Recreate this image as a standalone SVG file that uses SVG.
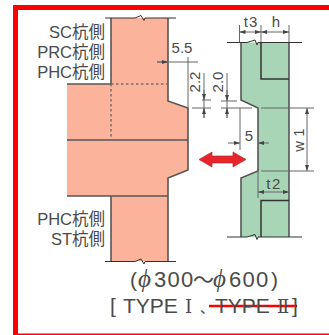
<svg xmlns="http://www.w3.org/2000/svg" width="329" height="335" viewBox="0 0 329 335">
<style>
text{font-family:"Liberation Sans","Noto Sans CJK JP",sans-serif;fill:#4a4a4a}
.lb{font-size:16.500px;text-anchor:end}
.d{font-size:15px;text-anchor:middle}
.big{font-size:21px}
.dg{font-size:22px;letter-spacing:1.300px}
.ph{font-family:"Liberation Serif",serif;font-style:italic;font-size:25px}
.rm{font-family:"DejaVu Serif",serif;font-size:18px}
.o{stroke:#555;stroke-width:1.600;fill:none}
.k{stroke:#333;stroke-width:1.500;fill:none}
.b{stroke:#333;stroke-width:1;fill:none}
.t{stroke:#666;stroke-width:1;fill:none}
</style>
<defs>
<marker id="a" viewBox="0 0 6 6" refX="6" refY="3" markerWidth="6" markerHeight="6" orient="auto-start-reverse"><path d="M0 1L6 3L0 5Z" fill="#444"/></marker>
</defs>
<path d="M340 7.500H15.500V336H340" fill="none" stroke="#f00" stroke-width="5"/>
<g id="pile">
<path d="M111 18H168V101L188 108V170L168 178V196H168V261H111V196H67V84H111Z" fill="#fbb49b"/>
<path class="o" d="M168 18V101L188 108V170L168 178V261"/>
<path class="o" d="M111 18V84H67M67 140H188M67 196H168M111 196V261"/>
<path class="b" d="M105 18H135L141 15.500L144 20.500L145 18H176M105 261.500H135L141 259L144 264L145 261.500H176"/>
<path d="M111 84H168M111 84V139" stroke="#7a6a66" stroke-width="1.500" stroke-dasharray="2.500 2.500" fill="none"/>
</g>
<g id="web">
<path d="M241 42.500H289V237H241V178L258 171V108L241 100Z" fill="#a8d5b5"/>
<path class="o" d="M241 42.500V100L258 108V171L241 178V237M289 42.500V237"/>
<path class="k" d="M261 42.500V79H289M261 237V200.500H289"/>
<path class="b" d="M227 42.500H247L255 40L257 45L258 42.500H302M227 237H247L255 234.500L257 239.500L258 237H302"/>
</g>
<g id="connectors">
<path class="t" d="M239.500 42V25M261 42V25M289 42V25M188 57V108M157 62H198M204 73V118M227 73V118M221 101H237M221 108H252M192 108H211M202 100H211M240 108V150M261 108H314M261 171H314M258 171V198"/>
<path class="t" marker-start="url(#a)" marker-end="url(#a)" d="M239.500 32H261"/>
<path class="t" marker-start="url(#a)" marker-end="url(#a)" d="M261 32H289"/>
<path class="t" marker-end="url(#a)" d="M157 62H168"/>
<path class="t" marker-end="url(#a)" d="M204 90V100"/>
<path class="t" marker-end="url(#a)" d="M204 118V108"/>
<path class="t" marker-end="url(#a)" d="M227 90V101"/>
<path class="t" marker-end="url(#a)" d="M227 118V108"/>
<path class="t" marker-end="url(#a)" d="M228 143H240"/>
<path class="t" marker-end="url(#a)" d="M269 143H258"/>
<path class="t" marker-start="url(#a)" marker-end="url(#a)" d="M307 108V171"/>
<path class="t" marker-start="url(#a)" marker-end="url(#a)" d="M258 192H289"/>
<path d="M199 159.500L212 152V156H233V152L246 159.500L233 167V163H212V167Z" fill="#e8232a" stroke="#a33" stroke-width=".7"/>
<path d="M209 306H297" stroke="#f00" stroke-width="2.500"/>
</g>
<g id="labels">
<text class="lb" x="105" y="38">SC杭側</text>
<text class="lb" x="105" y="58">PRC杭側</text>
<text class="lb" x="105" y="78">PHC杭側</text>
<text class="lb" x="105" y="225">PHC杭側</text>
<text class="lb" x="105" y="245">ST杭側</text>
<text class="d" x="182" y="53">5.5</text>
<text class="d" transform="translate(200 82) rotate(-90)">2.2</text>
<text class="d" transform="translate(223 82) rotate(-90)">2.0</text>
<text class="d" x="251" y="27" letter-spacing="1">t3</text>
<text class="d" x="276" y="27">h</text>
<text class="d" x="249" y="141">5</text>
<text class="d" x="274" y="189" letter-spacing="1.500">t2</text>
<text class="d" transform="translate(304 140) rotate(-90)">w 1</text>
<text class="big" y="287"><tspan x="130">(</tspan><tspan x="138" class="ph">ϕ</tspan><tspan x="154" class="dg">300</tspan><tspan x="193">～</tspan><tspan x="213" class="ph">ϕ</tspan><tspan x="229" class="dg">600</tspan><tspan x="271">)</tspan></text>
<text class="big" y="313"><tspan x="110">[</tspan><tspan x="123">TYPE</tspan><tspan x="185" class="rm">Ⅰ</tspan><tspan x="200" font-size="14">、</tspan><tspan x="215">TYPE</tspan><tspan x="277" class="rm">Ⅱ</tspan><tspan x="292">]</tspan></text>
</g>
</svg>
